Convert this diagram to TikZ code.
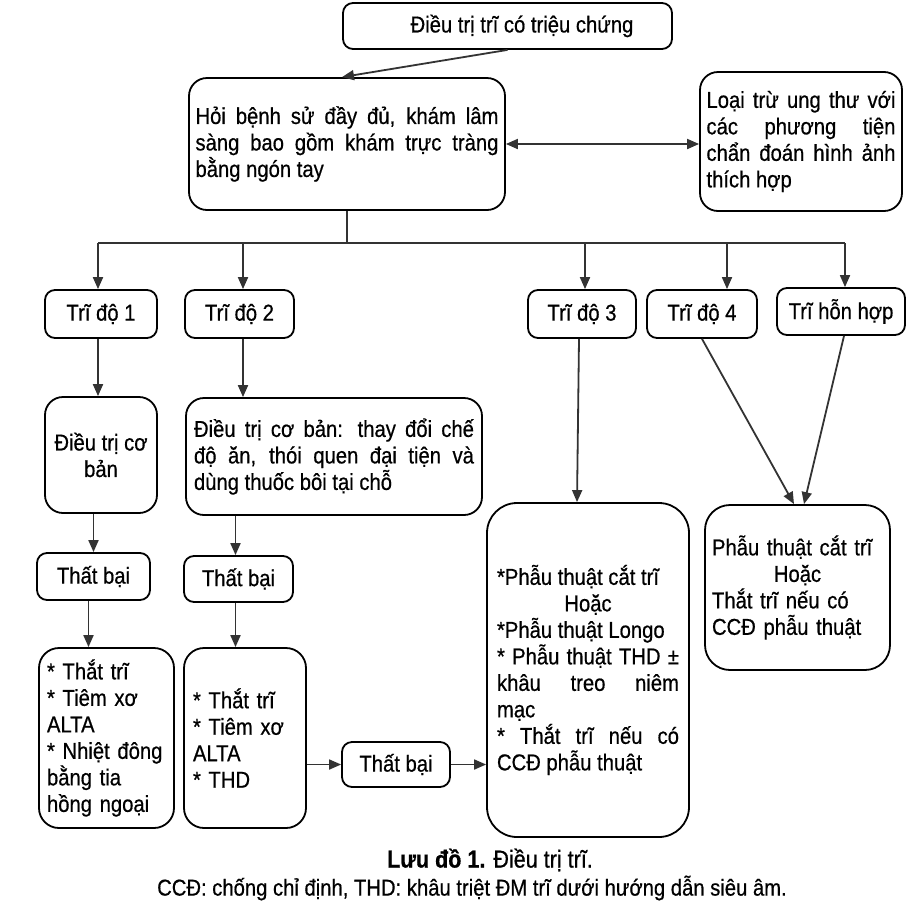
\documentclass[tikz,border=0pt]{standalone}
\usepackage{fontspec}
\setmainfont{Liberation Sans}[FakeStretch=0.88,FakeBold=0.6]
\usetikzlibrary{arrows.meta}
\newcommand\boxfont{\fontsize{23}{26.5}\selectfont}
\begin{document}
\begin{tikzpicture}[x=1pt,y=-1pt,
  box/.style={draw=black, line width=1.8pt, rounded corners=10pt, inner sep=0pt, font=\boxfont, align=center},
  conn/.style={draw=black!80, line width=1.8pt},
  arr/.style={conn, -{Triangle[length=12pt,width=10pt]}},
  darr/.style={conn, {Triangle[length=12pt,width=10pt]}-{Triangle[length=12pt,width=10pt]}},
]
\useasboundingbox[fill=white] (0,0) rectangle (915,911);

\node[box, minimum width=329pt, minimum height=46pt] (top) at (507.5,26) {\hspace*{29pt}Điều trị trĩ có triệu chứng};

\node[box, rounded corners=18pt, minimum width=316pt, minimum height=132pt, text width=303pt, align=justify] (hoi) at (347,144)
  {Hỏi bệnh sử đầy đủ, khám lâm\linebreak sàng bao gồm khám trực tràng\linebreak bằng ngón tay};

\node[box, rounded corners=18pt, minimum width=202pt, minimum height=139pt, text width=189pt, align=justify] (loai) at (801,141.5)
  {Loại trừ ung thư với\linebreak các phương tiện\linebreak chẩn đoán hình ảnh\linebreak thích hợp};

\node[box, minimum width=112pt, minimum height=48pt] (t1) at (101,314) {Trĩ độ 1};
\node[box, minimum width=109pt, minimum height=48pt] (t2) at (239.5,314) {Trĩ độ 2};
\node[box, minimum width=108pt, minimum height=48pt] (t3) at (582,314) {Trĩ độ 3};
\node[box, minimum width=110pt, minimum height=48pt] (t4) at (702,314) {Trĩ độ 4};
\node[box, minimum width=128pt, minimum height=47pt] (thh) at (841,311.5) {Trĩ hỗn hợp};

\node[box, rounded corners=18pt, minimum width=112pt, minimum height=116pt] (c1) at (101,455) {Điều trị cơ\\bản};
\node[box, rounded corners=18pt, minimum width=296pt, minimum height=117pt, text width=280pt, align=justify] (c2) at (334,456.5)
  {Điều trị cơ bản: thay đổi chế\linebreak độ ăn, thói quen đại tiện và\linebreak dùng thuốc bôi tại chỗ};

\node[box, minimum width=113pt, minimum height=47pt] (f1) at (93.5,576.5) {Thất bại};
\node[box, minimum width=109pt, minimum height=46pt] (f2) at (238.5,579) {Thất bại};

\node[box, rounded corners=20pt, minimum width=135pt, minimum height=180pt, text width=119pt, align=left] (a1) at (106.5,738)
  {{*} Thắt trĩ\\{*} Tiêm xơ\\ALTA\\{*} Nhiệt đông\\bằng tia\\hồng ngoại};
\node[box, rounded corners=20pt, minimum width=122pt, minimum height=180pt, text width=104pt, align=left] (b1) at (245,738)
  {{*} Thắt trĩ\\{*} Tiêm xơ\\ALTA\\{*} THD};
\node[box, minimum width=108pt, minimum height=45pt] (f3) at (396,764.5) {Thất bại};

\node[box, rounded corners=30pt, minimum width=202pt, minimum height=334pt, text width=182pt, align=justify] (big) at (588,670)
  {{*}Phẫu thuật cắt trĩ\\\makebox[\linewidth]{Hoặc}\\{*}Phẫu thuật Longo\\{*} Phẫu thuật THD ±\linebreak khâu treo niêm\linebreak mạc\\{*} Thắt trĩ nếu có\linebreak CCĐ phẫu thuật};
\node[box, rounded corners=25pt, minimum width=185pt, minimum height=165pt, text width=171pt, align=left] (right) at (797.5,587.5)
  {Phẫu thuật cắt trĩ\\\makebox[\linewidth]{Hoặc}\\Thắt trĩ nếu có\\CCĐ phẫu thuật};

% connectors
\draw[arr] (top.south) -- ([xshift=-5pt]hoi.north);
\draw[darr] (hoi.east) -- (hoi.east -| loai.west);
\coordinate (bus) at (347,243);
\coordinate (bL) at (98,243);
\coordinate (b2) at (243,243);
\coordinate (b3) at (585,243);
\coordinate (b4) at (727,243);
\coordinate (bR) at (845,243);
\draw[conn] (hoi.south) -- (hoi.south |- bus);
\draw[conn] (bL) -- (bR);
\draw[arr] (bL) -- (bL |- t1.north);
\draw[arr] (b2) -- (b2 |- t2.north);
\draw[arr] (b3) -- (b3 |- t3.north);
\draw[arr] (b4) -- (b4 |- t4.north);
\draw[arr] (bR) -- (bR |- thh.north);

\draw[arr] ([xshift=-3pt]t1.south) -- ([xshift=-3pt]t1.south |- c1.north);
\draw[arr] ([xshift=3.5pt]t2.south) -- ([xshift=3.5pt]t2.south |- c2.north);
\draw[arr] (f1.north |- c1.south) -- (f1.north);
\draw[arr] ([xshift=-3pt]f2.north |- c2.south) -- ([xshift=-3pt]f2.north);
\draw[arr] ([xshift=-5pt]f1.south) -- ([xshift=-5pt]f1.south |- a1.north);
\draw[arr] ([xshift=-3pt]f2.south) -- ([xshift=-3pt]f2.south |- b1.north);
\draw[arr] (b1.east |- f3.west) -- (f3.west);
\draw[arr] (f3.east) -- (f3.east -| big.west);
\draw[arr] ([xshift=-3pt]t3.south) -- ([xshift=-5pt]t3.south |- big.north);
\draw[arr] (t4.south) -- ([xshift=-3.5pt]right.north);
\draw[arr] ([xshift=3pt]thh.south) -- ([xshift=6.5pt]right.north);

% caption
\node[font=\fontsize{24.5}{28}\selectfont] (cap1) at (490,860) {\textbf{Lưu đồ 1.} Điều trị trĩ.};
\node[font=\boxfont] (cap2) at (472,888) {CCĐ: chống chỉ định, THD: khâu triệt ĐM trĩ dưới hướng dẫn siêu âm.};
\end{tikzpicture}
\end{document}
